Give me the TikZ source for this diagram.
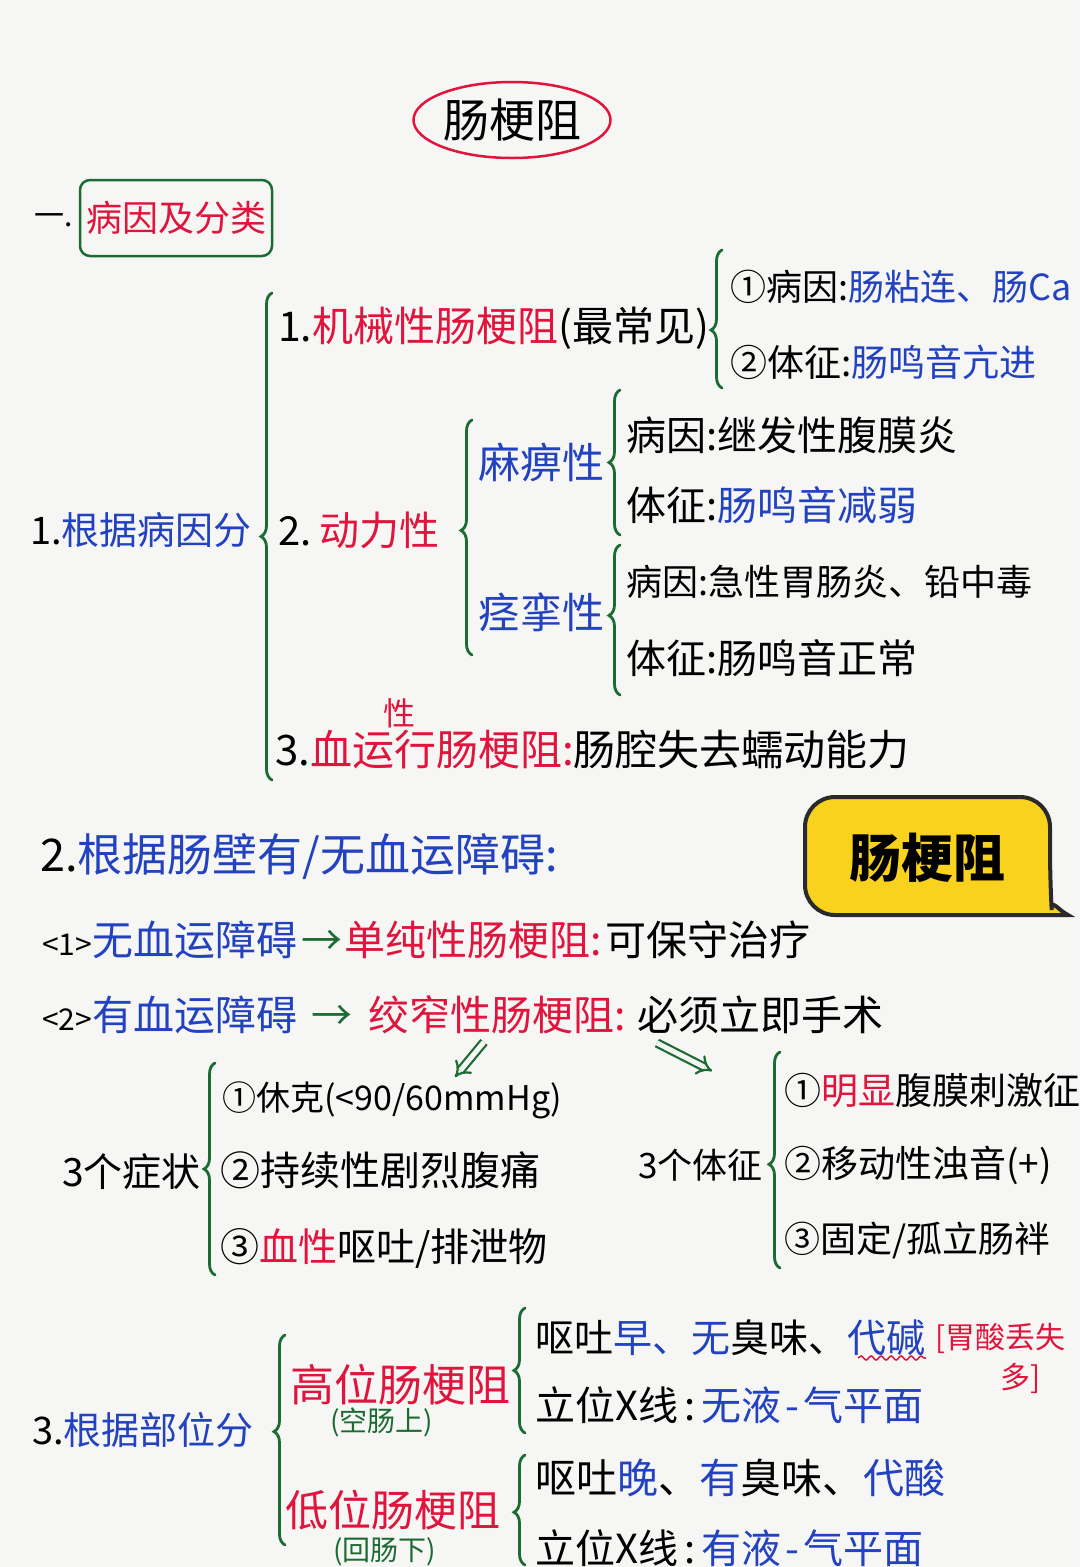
\documentclass[tikz,border=0pt]{standalone}
\usepackage{fontspec}
\setmainfont{Noto Sans CJK SC}
\usetikzlibrary{decorations.pathreplacing,decorations.pathmorphing,shapes.geometric,arrows.meta}
\definecolor{rd}{HTML}{E0143C}
\definecolor{bl}{HTML}{2342C0}
\definecolor{gn}{HTML}{1B6B33}
\definecolor{bgc}{HTML}{F6F6F4}
\definecolor{yl}{HTML}{F8D21C}
\definecolor{dk}{HTML}{2A2A2A}
\newcommand\fsz[1]{\fontsize{#1pt}{#1pt}\selectfont}
\begin{document}
\begin{tikzpicture}[x=1pt,y=-1pt,
  txt/.style={anchor=west,inner sep=0pt,text=black},
  brc/.style={draw=gn,line width=2.8pt,line cap=round,decorate,decoration={brace,amplitude=11pt,aspect=#1}},
  brc/.default=0.5,
  dblarrow/.style={draw=gn,double=bgc,double distance=5pt,line width=2.2pt,-{Implies}}]
\fill[bgc] (0,0) rectangle (1080,1567);
\useasboundingbox (0,0) rectangle (1080,1567);

% title
\node[ellipse,draw=rd,line width=2.5pt,minimum width=197pt,minimum height=76pt,inner sep=0pt,font=\fsz{46}] (title) at (512,120) {肠梗阻};

% section 1
\node[txt,font=\fsz{30}] (yi) at (34,220) {一.};
\node[draw=gn,line width=2.5pt,rounded corners=10pt,minimum width=192pt,minimum height=76pt,inner sep=0pt,text=rd,font=\fsz{36}] (sec1) at (176,218) {病因及分类};

\node[txt,font=\fsz{38}] (a1) at (30,530) {1.\color{bl}根据病因分};
\coordinate (b1s) at (272,780); \coordinate (b1e) at (272,293);
\draw[brc] (b1s) -- (b1e);

\node[txt,font=\fsz{41}] (mech) at (278,328) {1.{\color{rd}机械性肠梗阻}(最常见)};
\coordinate (b2s) at (722,388); \coordinate (b2e) at (722,250);
\draw[brc=0.42] (b2s) -- (b2e);
\node[txt,font=\fsz{36}] (m1) at (730,287) {①病因:{\color{bl}肠粘连、肠Ca}};
\node[txt,font=\fsz{37}] (m2) at (730,362) {②体征:{\color{bl}肠鸣音亢进}};

\node[txt,font=\fsz{40}] (dyn) at (278,530) {2.\hspace{8pt}{\color{rd}动力性}};
\coordinate (b3s) at (472,655); \coordinate (b3e) at (472,420);
\draw[brc=0.53] (b3s) -- (b3e);
\node[txt,font=\fsz{42},text=bl] (mabi) at (478,462) {麻痹性};
\coordinate (b4s) at (620,535); \coordinate (b4e) at (620,390);
\draw[brc] (b4s) -- (b4e);
\node[txt,font=\fsz{40}] (mb1) at (626,435) {病因:继发性腹膜炎};
\node[txt,font=\fsz{40}] (mb2) at (626,505) {体征:{\color{bl}肠鸣音减弱}};
\node[txt,font=\fsz{42},text=bl] (jl) at (478,612) {痉挛性};
\coordinate (b5s) at (620,695); \coordinate (b5e) at (620,545);
\draw[brc=0.53] (b5s) -- (b5e);
\node[txt,font=\fsz{36}] (jl1) at (626,582) {病因:急性胃肠炎、铅中毒};
\node[txt,font=\fsz{40}] (jl2) at (626,658) {体征:肠鸣音正常};

\node[txt,font=\fsz{42}] (xy) at (275,750) {3.{\color{rd}血运行肠梗阻:}肠腔失去蠕动能力};
\node[inner sep=0pt,font=\fsz{32},text=rd] (xing) at (399,713) {性};

% section 2
\node[txt,font=\fsz{45}] (s2) at (40,857) {2.{\color{bl}根据肠壁有/无血运障碍:}};
\coordinate (p1) at (805,856);
\coordinate (p2) at (1050,797);
\coordinate (p3) at (1050,880);
\coordinate (p4) at (1068,915);
\coordinate (p5) at (1010,915);
\draw[fill=yl,draw=dk,line width=4pt,rounded corners=30pt] (p1) |- (p2) -- (p3) [sharp corners] .. controls (1051,898) and (1058,910) .. (p4) -- (p5) [rounded corners=30pt] -| (p1) -- cycle;
\node[font=\fsz{52}\bfseries,inner sep=0pt] (bub) at (927,858) {肠梗阻};

\node[txt,font=\fsz{41}] (w1) at (42,940) {{\fsz{30}<1>}{\color{bl}无血运障碍}\hspace{4pt}{\color{gn}→}\hspace{2pt}{\color{rd}单纯性肠梗阻:}\hspace{4pt}可保守治疗};
\node[txt,font=\fsz{41}] (w2) at (42,1015) {{\fsz{30}<2>}{\color{bl}有血运障碍}\hspace{14pt}{\color{gn}→}\hspace{16pt}{\color{rd}绞窄性肠梗阻:}\hspace{12pt}必须立即手术};
\coordinate (da1) at (484,1042); \coordinate (da2) at (455,1077);
\coordinate (db1) at (657,1043); \coordinate (db2) at (712,1071);
\draw[dblarrow] (da1) -- (da2);
\draw[dblarrow] (db1) -- (db2);

\node[txt,font=\fsz{39}] (zz) at (62,1172) {3个症状};
\coordinate (b6s) at (215,1275); \coordinate (b6e) at (215,1063);
\draw[brc] (b6s) -- (b6e);
\node[txt,font=\fsz{34}] (z1) at (222,1100) {①休克(<90/60mmHg)};
\node[txt,font=\fsz{40}] (z2) at (220,1170) {②持续性剧烈腹痛};
\node[txt,font=\fsz{39}] (z3) at (220,1248) {③{\color{rd}血性}呕吐/排泄物};

\node[txt,font=\fsz{35}] (tz) at (638,1165) {3个体征};
\coordinate (b7s) at (780,1268); \coordinate (b7e) at (780,1052);
\draw[brc=0.48] (b7s) -- (b7e);
\node[txt,font=\fsz{37}] (t1) at (784,1090) {①{\color{rd}明显}腹膜刺激征};
\node[txt,font=\fsz{37}] (t2) at (784,1165) {②移动性浊音(+)};
\node[txt,font=\fsz{36}] (t3) at (784,1240) {③固定/孤立肠袢};

% section 3
\node[txt,font=\fsz{38}] (s3) at (32,1430) {3.{\color{bl}根据部位分}};
\coordinate (b8s) at (285,1545); \coordinate (b8e) at (285,1335);
\draw[brc=0.54] (b8s) -- (b8e);
\node[txt,font=\fsz{44},text=rd] (gw) at (290,1385) {高位肠梗阻};
\node[txt,font=\fsz{28},text=gn] (gw2) at (330,1422) {(空肠上)};
\node[txt,font=\fsz{43},text=rd] (dw) at (285,1510) {低位肠梗阻};
\node[txt,font=\fsz{28},text=gn] (dw2) at (333,1552) {(回肠下)};

\coordinate (b9s) at (525,1433); \coordinate (b9e) at (525,1308);
\draw[brc] (b9s) -- (b9e);
\node[txt,font=\fsz{39}] (g1) at (535,1338) {呕吐{\color{bl}早、无}臭味、{\color{bl}代碱}};
\node[txt,font=\fsz{30},text=rd] (g1b) at (935,1338) {[胃酸丢失};
\node[txt,font=\fsz{30},text=rd] (g1c) at (1000,1378) {多]};
\coordinate (wv1) at (858,1358); \coordinate (wv2) at (926,1358);
\draw[rd,line width=1.5pt,decorate,decoration={snake,amplitude=2pt,segment length=10pt}] (wv1) -- (wv2);
\node[txt,font=\fsz{40}] (g2) at (535,1405) {立位X线\hspace{6pt}:\hspace{6pt}{\color{bl}无液\hspace{4pt}-\hspace{4pt}气平面}};

\coordinate (b10s) at (525,1565); \coordinate (b10e) at (525,1455);
\draw[brc=0.48] (b10s) -- (b10e);
\node[txt,font=\fsz{41}] (d1) at (535,1478) {呕吐{\color{bl}晚}、{\color{bl}有}臭味、{\color{bl}代酸}};
\node[txt,font=\fsz{40}] (d2) at (535,1548) {立位X线\hspace{6pt}:\hspace{6pt}{\color{bl}有液\hspace{4pt}-\hspace{4pt}气平面}};
\end{tikzpicture}
\end{document}
